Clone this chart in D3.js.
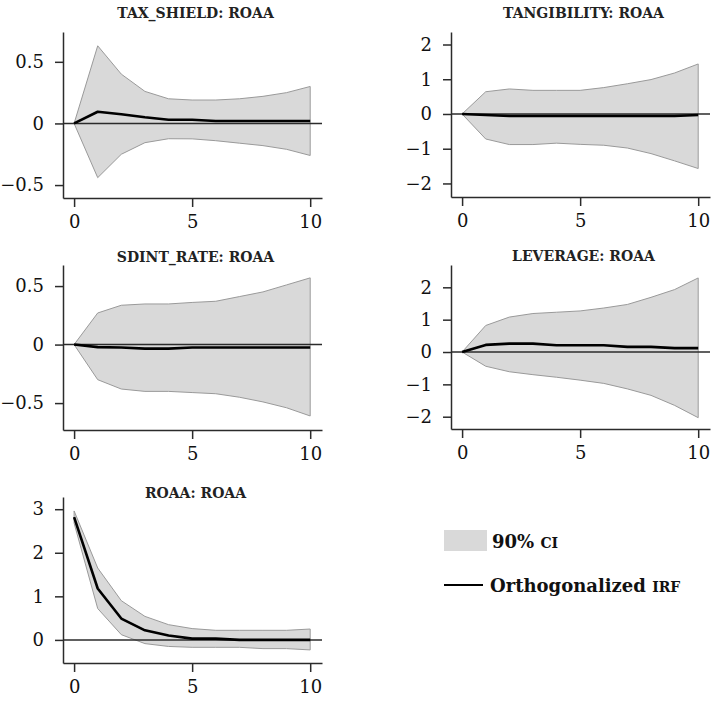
<!DOCTYPE html>
<html>
<head>
<meta charset="utf-8">
<script src="https://cdn.jsdelivr.net/npm/d3@7"></script>
<style>
body { margin: 0; background: #fff; }
svg { display: block; }
</style>
</head>
<body>
<script>
// horizons 0..10
var steps = [0,1,2,3,4,5,6,7,8,9,10];

var titles = ["TAX_SHIELD: ROAA", "TANGIBILITY: ROAA", "SDINT_RATE: ROAA", "LEVERAGE: ROAA", "ROAA: ROAA"];

var taxIrf   = [0, 0.095, 0.075, 0.05, 0.03, 0.03, 0.02, 0.02, 0.02, 0.02, 0.02];
var taxUpper = [0, 0.63, 0.40, 0.26, 0.20, 0.19, 0.19, 0.20, 0.22, 0.25, 0.30];
var taxLower = [0, -0.44, -0.25, -0.156, -0.124, -0.125, -0.14, -0.16, -0.18, -0.21, -0.26];

var tanIrf   = [0, -0.03, -0.06, -0.06, -0.06, -0.06, -0.06, -0.06, -0.06, -0.06, -0.03];
var tanUpper = [0, 0.64, 0.72, 0.68, 0.68, 0.68, 0.76, 0.87, 0.99, 1.18, 1.44];
var tanLower = [0, -0.72, -0.88, -0.88, -0.84, -0.875, -0.90, -0.98, -1.14, -1.35, -1.57];

var sdiIrf   = [0, -0.022, -0.025, -0.035, -0.035, -0.025, -0.025, -0.025, -0.025, -0.025, -0.025];
var sdiUpper = [0, 0.27, 0.336, 0.347, 0.347, 0.36, 0.37, 0.41, 0.45, 0.51, 0.57];
var sdiLower = [0, -0.30, -0.38, -0.40, -0.40, -0.41, -0.42, -0.45, -0.49, -0.54, -0.61];

var levIrf   = [0, 0.22, 0.26, 0.26, 0.21, 0.21, 0.21, 0.16, 0.16, 0.12, 0.12];
var levUpper = [0, 0.82, 1.08, 1.19, 1.23, 1.27, 1.36, 1.47, 1.69, 1.93, 2.29];
var levLower = [0, -0.44, -0.61, -0.70, -0.78, -0.87, -0.97, -1.14, -1.34, -1.65, -2.03];

var roaIrf   = [2.82, 1.18, 0.49, 0.22, 0.10, 0.03, 0.03, 0.0, 0.0, 0.0, 0.0];
var roaUpper = [2.96, 1.65, 0.90, 0.54, 0.35, 0.26, 0.22, 0.22, 0.22, 0.22, 0.25];
var roaLower = [2.68, 0.72, 0.12, -0.085, -0.15, -0.17, -0.17, -0.17, -0.20, -0.20, -0.23];

var xTicks = [0, 5, 10];
var yTicks = [[-0.5, 0, 0.5], [-2, -1, 0, 1, 2], [-0.5, 0, 0.5], [-2, -1, 0, 1, 2], [0, 1, 2, 3]];
var yDomains = [[-0.605, 0.742], [-2.39, 2.36], [-0.73, 0.68], [-2.38, 2.69], [-0.53, 3.28]];

var irfs = [taxIrf, tanIrf, sdiIrf, levIrf, roaIrf];
var uppers = [taxUpper, tanUpper, sdiUpper, levUpper, roaUpper];
var lowers = [taxLower, tanLower, sdiLower, levLower, roaLower];

// plot boxes: left, right, top, bottom, title baseline
var boxes = [
  {l: 63,  r: 322, t: 32,  b: 198, ty: 18},
  {l: 451, r: 710, t: 32,  b: 197, ty: 18},
  {l: 63,  r: 322, t: 265, b: 430, ty: 262},
  {l: 451, r: 710, t: 265, b: 429, ty: 261},
  {l: 63,  r: 322, t: 497, b: 663, ty: 498}
];

var serif = "'DejaVu Serif', serif";
var ink = "#2b2b2b";

var svg = d3.select("body")
  .append("svg")
    .attr("width", 711)
    .attr("height", 701)
    .attr("font-family", serif);

boxes.forEach(function(bx, i) {
  var x = d3.scaleLinear().domain([-0.47, 10.5]).range([bx.l, bx.r]);
  var y = d3.scaleLinear().domain(yDomains[i]).range([bx.b, bx.t]);

  var rows = steps.map(function(s, k) {
    return {s: s, irf: irfs[i][k], lo: lowers[i][k], hi: uppers[i][k]};
  });

  var g = svg.append("g");

  // CI band
  g.append("path")
    .datum(rows)
    .attr("d", d3.area()
      .x(function(d) { return x(d.s); })
      .y0(function(d) { return y(d.lo); })
      .y1(function(d) { return y(d.hi); }))
    .attr("fill", "#d9d9d9")
    .attr("stroke", "#9a9a9a")
    .attr("stroke-width", 1);

  // zero line
  g.append("line")
    .attr("x1", bx.l).attr("x2", bx.r)
    .attr("y1", y(0)).attr("y2", y(0))
    .attr("stroke", ink)
    .attr("stroke-width", 1.5);

  // irf line
  g.append("path")
    .datum(rows)
    .attr("d", d3.line()
      .x(function(d) { return x(d.s); })
      .y(function(d) { return y(d.irf); }))
    .attr("fill", "none")
    .attr("stroke", "#000")
    .attr("stroke-width", 2.6)
    .attr("stroke-linejoin", "round");

  var xa = g.append("g")
    .attr("transform", "translate(0," + bx.b + ")")
    .call(d3.axisBottom(x).tickValues(xTicks).tickSizeOuter(0).tickSizeInner(9).tickPadding(8).tickFormat(d3.format("d")));

  var ya = g.append("g")
    .attr("transform", "translate(" + bx.l + ",0)")
    .call(d3.axisLeft(y).tickValues(yTicks[i]).tickSizeOuter(0).tickSizeInner(8).tickPadding(11).tickFormat(d3.format("")));

  [xa, ya].forEach(function(a) {
    a.attr("font-family", serif).attr("font-size", 18);
    a.select(".domain").attr("stroke", ink).attr("stroke-width", 1.5);
    a.selectAll(".tick line").attr("stroke", ink).attr("stroke-width", 1.5);
    a.selectAll(".tick text").attr("fill", "#111");
  });

  g.append("text")
    .attr("x", (bx.l + bx.r) / 2 + 3)
    .attr("y", bx.ty)
    .attr("text-anchor", "middle")
    .attr("font-weight", "bold")
    .attr("font-size", 14)
    .attr("fill", "#222")
    .text(titles[i]);
});

// legend
var leg = svg.append("g");
leg.append("rect")
  .attr("x", 444).attr("y", 530)
  .attr("width", 43).attr("height", 21)
  .attr("fill", "#d9d9d9");
var t1 = leg.append("text")
  .attr("x", 492).attr("y", 548)
  .attr("font-weight", "bold")
  .attr("fill", "#111");
t1.append("tspan").attr("font-size", 18).text("90% ");
t1.append("tspan").attr("font-size", 14).text("CI");

leg.append("line")
  .attr("x1", 444).attr("x2", 483)
  .attr("y1", 585).attr("y2", 585)
  .attr("stroke", "#000")
  .attr("stroke-width", 2);
var t2 = leg.append("text")
  .attr("x", 490).attr("y", 592)
  .attr("font-weight", "bold")
  .attr("fill", "#111");
t2.append("tspan").attr("font-size", 18).text("Orthogonalized ");
t2.append("tspan").attr("font-size", 14).text("IRF");
</script>
</body>
</html>
